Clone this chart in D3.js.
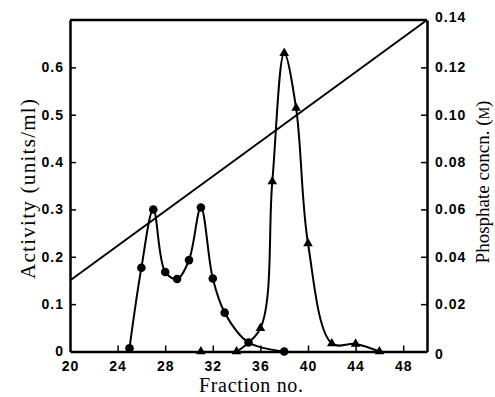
<html>
<head>
    <script src="https://d3js.org/d3.v7.min.js"></script>
    <style>
        body { margin: 0; background: #fff; }
        .tick text { font-family: "Liberation Sans", Arial, sans-serif; font-size: 14px; font-weight: bold; letter-spacing: 1px; }
        .title { font-family: "Liberation Serif", "Times New Roman", serif; font-size: 20px; }
    </style>
</head>
<body>
<svg width="495" height="397"></svg>
<script>
    // activity, circles
    const circFraction = [25, 26, 27, 28, 29, 30, 31, 32, 33, 35, 38];
    const circActivity = [0.007, 0.177, 0.300, 0.168, 0.153, 0.193, 0.304, 0.154, 0.082, 0.019, 0.0];
    // activity, triangles
    const triFraction = [31, 34, 36, 37, 38, 39, 40, 42, 44, 46];
    const triActivity = [0.0, 0.0, 0.049, 0.359, 0.630, 0.514, 0.228, 0.017, 0.016, 0.0];
    // phosphate gradient
    const gradFraction = [20, 50];
    const gradPhosphate = [0.03, 0.14];

    const xTicks = [20, 24, 28, 32, 36, 40, 44, 48];
    const leftTicks = [0, 0.1, 0.2, 0.3, 0.4, 0.5, 0.6];
    const rightTicks = [0, 0.02, 0.04, 0.06, 0.08, 0.10, 0.12, 0.14];

    const plotLeft = 70, plotRight = 427, plotTop = 20, plotBottom = 351.5;

    const svg = d3.select("svg");

    const x = d3.scaleLinear().domain([20, 50]).range([plotLeft, plotRight]);
    const y = d3.scaleLinear().domain([0, 0.7]).range([plotBottom, plotTop]);
    const y2 = d3.scaleLinear().domain([0, 0.14]).range([plotBottom, plotTop]);

    // frame top
    svg.append("line")
        .attr("x1", plotLeft).attr("x2", plotRight)
        .attr("y1", plotTop).attr("y2", plotTop)
        .attr("stroke", "#000").attr("stroke-width", 2.5);

    const bottomAxis = svg.append("g")
        .attr("transform", `translate(0,${plotBottom})`)
        .call(d3.axisBottom(x).tickValues(xTicks).tickSizeInner(-6).tickSizeOuter(0).tickPadding(10));

    const leftAxis = svg.append("g")
        .attr("transform", `translate(${plotLeft},0)`)
        .call(d3.axisLeft(y).tickValues(leftTicks).tickSizeInner(-6).tickSizeOuter(0).tickPadding(6)
            .tickFormat(d => d === 0 ? "0" : d3.format(".1f")(d)));

    const rightAxis = svg.append("g")
        .attr("transform", `translate(${plotRight},0)`)
        .call(d3.axisRight(y2).tickValues(rightTicks).tickSizeInner(-6).tickSizeOuter(0).tickPadding(8)
            .tickFormat(d => d === 0 ? "0" : d3.format(".2f")(d)));

    [bottomAxis, leftAxis, rightAxis].forEach(a => {
        a.select(".domain").attr("stroke-width", 2.5);
        a.selectAll(".tick line").attr("stroke-width", 1.5);
    });
    leftAxis.selectAll(".tick").filter(d => d === 0).select("line").remove();
    rightAxis.selectAll(".tick").filter(d => d === 0 || d === 0.14).select("line").remove();
    bottomAxis.selectAll(".tick").filter(d => d === 20).select("line").remove();
    // end labels of the right scale sit a bit off their ticks
    rightAxis.selectAll(".tick").filter(d => d === 0.14).select("text").attr("y", -3);
    rightAxis.selectAll(".tick").filter(d => d === 0).select("text").attr("y", 3);

    // phosphate gradient
    const grad = gradFraction.map((f, i) => [f, gradPhosphate[i]]);
    svg.append("path")
        .attr("d", d3.line().x(d => x(d[0])).y(d => y2(d[1]))(grad))
        .attr("fill", "none").attr("stroke", "#000").attr("stroke-width", 2);

    const line = d3.line().x(d => x(d[0])).y(d => y(d[1])).curve(d3.curveCatmullRom.alpha(0.5));

    const circ = circFraction.map((f, i) => [f, circActivity[i]]);
    const tri = triFraction.map((f, i) => [f, triActivity[i]]);

    svg.append("path").attr("d", line(circ))
        .attr("fill", "none").attr("stroke", "#000").attr("stroke-width", 2);
    svg.append("path").attr("d", line(tri.slice(1)))
        .attr("fill", "none").attr("stroke", "#000").attr("stroke-width", 2);

    svg.selectAll(".dot").data(circ).join("circle")
        .attr("cx", d => x(d[0])).attr("cy", d => y(d[1])).attr("r", 4.3).attr("fill", "#000");

    const triSym = d3.symbol().type(d3.symbolTriangle).size(40);
    svg.selectAll(".tri").data(tri).join("path")
        .attr("d", triSym)
        .attr("transform", d => `translate(${x(d[0])},${y(d[1])})`)
        .attr("fill", "#000");

    // titles
    svg.append("text").attr("class", "title")
        .attr("x", 251).attr("y", 392)
        .attr("text-anchor", "middle")
        .attr("textLength", 104).attr("lengthAdjust", "spacing")
        .text("Fraction no.");

    svg.append("text").attr("class", "title")
        .style("font-size", "21px")
        .attr("transform", "translate(35,189) rotate(-90)")
        .attr("text-anchor", "middle")
        .attr("textLength", 180).attr("lengthAdjust", "spacing")
        .text("Activity (units/ml)");

    const rt = svg.append("text").attr("class", "title")
        .style("font-size", "19px")
        .attr("transform", "translate(489,182) rotate(-90)")
        .attr("text-anchor", "middle");
    rt.append("tspan").text("Phosphate concn. (");
    rt.append("tspan").style("font-size", "14px").text("M");
    rt.append("tspan").text(")");
</script>
</body>
</html>
